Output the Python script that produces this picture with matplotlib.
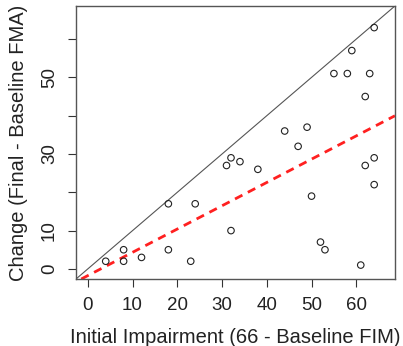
import matplotlib
matplotlib.use("Agg")
from matplotlib import pyplot as plt

# initial impairment (x) and change in FMA (y)
impairment = [4, 8, 8, 12, 18, 18, 23, 24, 31, 32, 32, 34, 38, 44, 47, 49, 50,
              52, 53, 55, 58, 59, 61, 62, 62, 63, 64, 64, 64]
change = [2, 5, 2, 3, 17, 5, 2, 17, 27, 29, 10, 28, 26, 36, 32, 37, 19,
          7, 5, 51, 51, 57, 1, 27, 45, 51, 29, 22, 63]

# fitted line
fit_intercept = -1.75
fit_slope = 0.608

x_ticks = [0, 10, 20, 30, 40, 50, 60]
y_ticks = [0, 10, 20, 30, 40, 50, 60]
y_tick_labels = ["0", "10", "", "30", "", "50", ""]

plt.rcParams["font.family"] = ["Liberation Sans", "DejaVu Sans"]

fig = plt.figure(figsize=(4.03, 3.46), dpi=100)
ax = fig.add_axes([0.1886, 0.1936, 0.7914, 0.7891])

ax.scatter(impairment, change, s=22, facecolors="none", edgecolors="#222222",
           linewidths=0.8, zorder=3)
ax.axline((0, 0), slope=1, color="#555555", lw=0.8)
ax.axline((0, fit_intercept), slope=fit_slope, color="#ff2020", lw=2,
          linestyle=(0, (3, 2.2)))

ax.set_xlim(-2.64, 68.64)
ax.set_ylim(-2.64, 68.64)
ax.set_xticks(x_ticks)
ax.set_yticks(y_ticks)
ax.set_yticklabels(y_tick_labels, rotation=90, va="center")
ax.tick_params(axis="both", direction="out", length=6, width=0.8,
               color="#333333", labelsize=13.5, labelcolor="#222222")
ax.tick_params(axis="x", pad=7)
ax.tick_params(axis="y", pad=7)

for sp in ax.spines.values():
    sp.set_color("#555555")
    sp.set_linewidth(1)

ax.set_xlabel("Initial Impairment (66 - Baseline FIM)", fontsize=14.5,
              color="#222222", labelpad=10)
ax.set_ylabel("Change (Final - Baseline FMA)", fontsize=14.5,
              color="#222222", labelpad=9)

fig.savefig("out.png", dpi=100)
